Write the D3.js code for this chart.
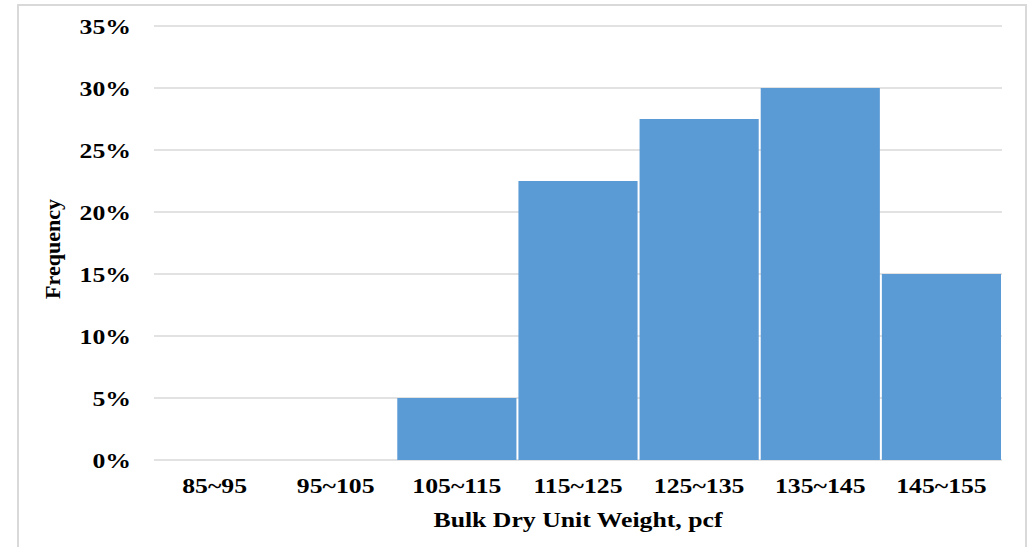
<!DOCTYPE html>
<html>
<head>
<meta charset="utf-8">
<script src="https://cdn.jsdelivr.net/npm/d3@7"></script>
<style>
  html, body { margin: 0; padding: 0; background: #ffffff; }
  svg { display: block; }
  text { font-family: "Liberation Serif", "Times New Roman", serif; font-weight: bold; fill: #000; }
</style>
</head>
<body>
<svg id="chart" width="1033" height="547"></svg>
<script>
// Frequency distribution of bulk dry unit weight
const categories = ["85~95", "95~105", "105~115", "115~125", "125~135", "135~145", "145~155"];
const frequency = [0, 0, 0.05, 0.225, 0.275, 0.30, 0.15];
const yTicks = [0, 0.05, 0.10, 0.15, 0.20, 0.25, 0.30, 0.35];

const svg = d3.select("#chart");
const plot = { left: 154, right: 1002, top: 26, bottom: 460 };
const fontSize = "22px";
const stretch = "scale(1.17,1)"; // slightly widened lettering

// outer frame
svg.append("rect")
  .attr("x", 18).attr("y", 5)
  .attr("width", 1008).attr("height", 600)
  .attr("fill", "none")
  .attr("stroke", "#d9d9d9")
  .attr("stroke-width", 2);

const x = d3.scaleBand()
  .domain(categories)
  .range([plot.left, plot.right])
  .paddingInner(0).paddingOuter(0);

const y = d3.scaleLinear()
  .domain([0, 0.35])
  .range([plot.bottom, plot.top]);

// horizontal gridlines
svg.append("g")
  .selectAll("line")
  .data(yTicks)
  .join("line")
  .attr("x1", plot.left).attr("x2", plot.right)
  .attr("y1", d => y(d)).attr("y2", d => y(d))
  .attr("stroke", "#d9d9d9")
  .attr("stroke-width", 1.5);

// bars
svg.append("g")
  .selectAll("rect")
  .data(categories.map((c, i) => ({ c, v: frequency[i] })).filter(d => d.v > 0))
  .join("rect")
  .attr("x", d => x(d.c) + 1)
  .attr("width", x.bandwidth() - 2)
  .attr("y", d => y(d.v))
  .attr("height", d => y(0) - y(d.v))
  .attr("fill", "#5b9bd5");

function styleTicks(g) {
  g.select(".domain").remove();
  g.selectAll("text")
    .style("font-family", '"Liberation Serif", "Times New Roman", serif')
    .style("font-weight", "bold")
    .style("font-size", fontSize)
    .attr("fill", "#000")
    .attr("transform", stretch);
}

// y axis labels
svg.append("g")
  .attr("transform", "translate(131,0)")
  .call(d3.axisLeft(y)
    .tickValues(yTicks)
    .tickFormat(d3.format(".0%"))
    .tickSize(0)
    .tickPadding(0))
  .call(styleTicks);

// x axis labels
svg.append("g")
  .attr("transform", `translate(0,${plot.bottom + 17})`)
  .call(d3.axisBottom(x).tickSize(0).tickPadding(0))
  .call(styleTicks);

// axis titles
svg.append("text")
  .attr("transform", `translate(${(plot.left + plot.right) / 2},527) ${stretch}`)
  .attr("text-anchor", "middle")
  .style("font-size", fontSize)
  .text("Bulk Dry Unit Weight, pcf");

svg.append("text")
  .attr("transform", `translate(60,249) rotate(-90)`)
  .attr("text-anchor", "middle")
  .style("font-size", fontSize)
  .text("Frequency");
</script>
</body>
</html>
